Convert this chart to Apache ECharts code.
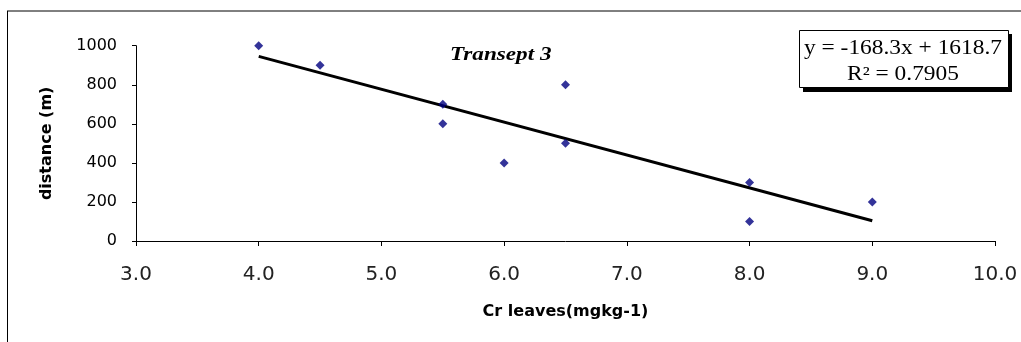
<!DOCTYPE html>
<html><head><meta charset="utf-8">
<script src="https://cdn.jsdelivr.net/npm/echarts@6/dist/echarts.min.js"></script>
<style>html,body{margin:0;padding:0;background:#fff}#c{width:1021px;height:342px}</style>
</head><body><div id="c"></div>
<script>
const crLeaves = [4.0, 4.5, 5.5, 5.5, 6.0, 6.5, 6.5, 8.0, 8.0, 9.0];
const distance = [1000, 900, 700, 600, 400, 800, 500, 300, 100, 200];
const trendX = [4.0, 9.0];
const trendY = [945.5, 104.0];
const equationText = 'y = -168.3x + 1618.7';
const r2Text = 'R² = 0.7905';
const titleText = 'Transept 3';
const xName = 'Cr leaves(mgkg-1)';
const yName = 'distance (m)';

const chart = echarts.init(document.getElementById('c'), null, {renderer: 'canvas'});
chart.setOption({
  animation: false,
  backgroundColor: '#fff',
  grid: {left: 136, right: 26, top: 45.7, bottom: 101, containLabel: false},
  xAxis: {
    type: 'value', min: 3, max: 10, interval: 1,
    name: xName, nameLocation: 'middle', nameGap: 63,
    nameTextStyle: {fontFamily: 'DejaVu Sans', fontWeight: 'bold', fontSize: 16, color: '#000'},
    axisLine: {show: true, lineStyle: {color: '#000', width: 1}},
    axisTick: {show: true, length: 5, inside: false, lineStyle: {color: '#000'}},
    axisLabel: {fontFamily: 'DejaVu Sans', fontSize: 20, color: '#222', margin: 24, formatter: v => v.toFixed(1)},
    splitLine: {show: false}
  },
  yAxis: {
    type: 'value', min: 0, max: 1000, interval: 200,
    name: yName, nameLocation: 'middle', nameGap: 81, nameRotate: 90,
    nameTextStyle: {fontFamily: 'DejaVu Sans', fontWeight: 'bold', fontSize: 16, color: '#000'},
    axisLine: {show: true, lineStyle: {color: '#000', width: 1}},
    axisTick: {show: true, length: 4, lineStyle: {color: '#000'}},
    axisLabel: {fontFamily: 'DejaVu Sans', fontSize: 16, color: '#000', margin: 19, formatter: v => String(v)},
    splitLine: {show: false}
  },
  series: [
    {
      type: 'line', data: trendX.map((x, i) => [x, trendY[i]]),
      symbol: 'none', lineStyle: {color: '#000', width: 3}, z: 2
    },
    {
      type: 'scatter', data: crLeaves.map((x, i) => [x, distance[i]]),
      symbol: 'diamond', symbolSize: 9, itemStyle: {color: '#000080'}, z: 3
    }
  ],
  graphic: [
    {type: 'line', shape: {x1: 7, y1: 11, x2: 1021, y2: 11}, style: {stroke: '#000', lineWidth: 1}},
    {type: 'line', shape: {x1: 7.5, y1: 11, x2: 7.5, y2: 342}, style: {stroke: '#000', lineWidth: 1}},
    {type: 'text', x: 450, y: 46, scaleX: 1.22, style: {text: titleText, font: 'italic bold 19px "Liberation Serif", "Times New Roman", serif', fill: '#000'}},
    {type: 'rect', shape: {x: 803, y: 34, width: 209, height: 58}, style: {fill: '#000'}},
    {type: 'rect', shape: {x: 799.5, y: 30.5, width: 209, height: 57}, style: {fill: '#fff', stroke: '#000', lineWidth: 1}},
    {type: 'text', x: 903, y: 38.5, scaleX: 1.17, style: {text: equationText, font: '20px "Liberation Serif", "Times New Roman", serif', fill: '#000', align: 'center'}},
    {type: 'text', x: 903, y: 64.5, scaleX: 1.17, style: {text: r2Text, font: '20px "Liberation Serif", "Times New Roman", serif', fill: '#000', align: 'center'}}
  ]
});
</script></body></html>
